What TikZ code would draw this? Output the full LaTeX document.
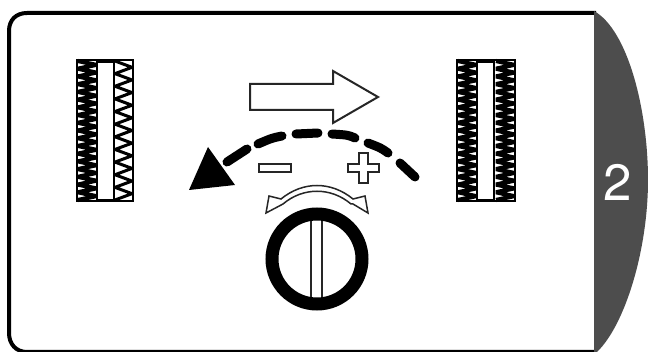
\documentclass[tikz,border=0pt]{standalone}
\usepackage{fontspec}
\setmainfont{TeX Gyre Heros}
\definecolor{tabgray}{HTML}{4D4D4D}
\tikzset{
  frameline/.style={draw=black,line width=4pt},
  outline/.style={draw=black!85,line width=2pt,fill=white,line join=miter},
  dashstroke/.style={draw=black,line width=9pt,line cap=round},
  zig/.style={draw=black,line width=3pt,line join=bevel},
  zigdense/.style={draw=black,line width=4.2pt,line join=bevel},
  springbox/.style={draw=black,line width=2.4pt},
  slot/.style={draw=black,line width=1.5pt,fill=white},
}
\newcommand{\zigcol}[4]{%
  \draw[#4] (#1,61)
  \foreach \k in {1,...,#3}{ -- (#2,{61+(\k-0.5)*139/#3}) -- (#1,{61+\k*139/#3}) };
}
\begin{document}
\begin{tikzpicture}[x=1pt,y=-1pt]
\useasboundingbox (0,0) rectangle (648,352);
\fill[white] (0,0) rectangle (648,352);
% frame
\draw[frameline] (596,13) -- (27,13) .. controls (16,13) and (9,20) .. (9,31) -- (9,333) .. controls (9,344) and (16,352) .. (27,352) -- (596,352);
% tab
\path[fill=tabgray] (594,11) .. controls (628,30) and (648,110) .. (648,180) .. controls (648,250) and (625,325) .. (597,352) -- (594,352) -- cycle;
\node[text=white,font=\fontsize{51}{51}\selectfont,inner sep=0pt,anchor=center] (num) at (617.5,182) {2};
% left spring
\zigcol{78}{96}{18}{zigdense}
\zigcol{115}{132}{11}{zig}
\draw[springbox] (77,60) rectangle (133,201);
\draw[slot] (97,62) rectangle (114,200);
% right spring
\zigcol{458}{476}{18}{zigdense}
\zigcol{496}{514}{18}{zigdense}
\draw[springbox] (457,60) rectangle (515,201);
\draw[slot] (477,62) rectangle (494,200);
% big arrow
\draw[outline] (250,84) -- (333,84) -- (333,71) -- (378,97) -- (333,123) -- (333,110) -- (250,110) -- cycle;
% dashed arc
\draw[dashstroke] (415,177) -- (400,163)
  (388,153) .. controls (381,148) .. (368,143)
  (355,138) .. controls (348,135) .. (332,134)
  (318,133) -- (296,134)
  (282,136) .. controls (272,138) .. (258,144)
  (247,149) -- (227,162);
\fill[black] (208,147) -- (235,185) -- (189,190) -- cycle;
% minus and plus
\draw[outline] (259,164) rectangle (291,172);
\draw[outline] (359,153) -- (368,153) -- (368,164) -- (379,164) -- (379,172) -- (368,172) -- (368,183) -- (359,183) -- (359,172) -- (348,172) -- (348,164) -- (359,164) -- cycle;
% curved double arrow
\draw[draw=black!85,line width=1.5pt,fill=white,line join=miter] (269,196) -- (281,199) .. controls (303,181) and (331,181) .. (353,199) -- (365,196) -- (368,213) -- (353,204) -- (351,204) .. controls (331,187) and (303,187) .. (283,204) -- (266,213) -- cycle;
% dial
\draw[draw=black,line width=13pt] (317,259) circle[radius=45];
\draw[draw=black!85,line width=1.8pt] (311,221) -- (311,297) (322,221) -- (322,297);
\end{tikzpicture}
\end{document}
